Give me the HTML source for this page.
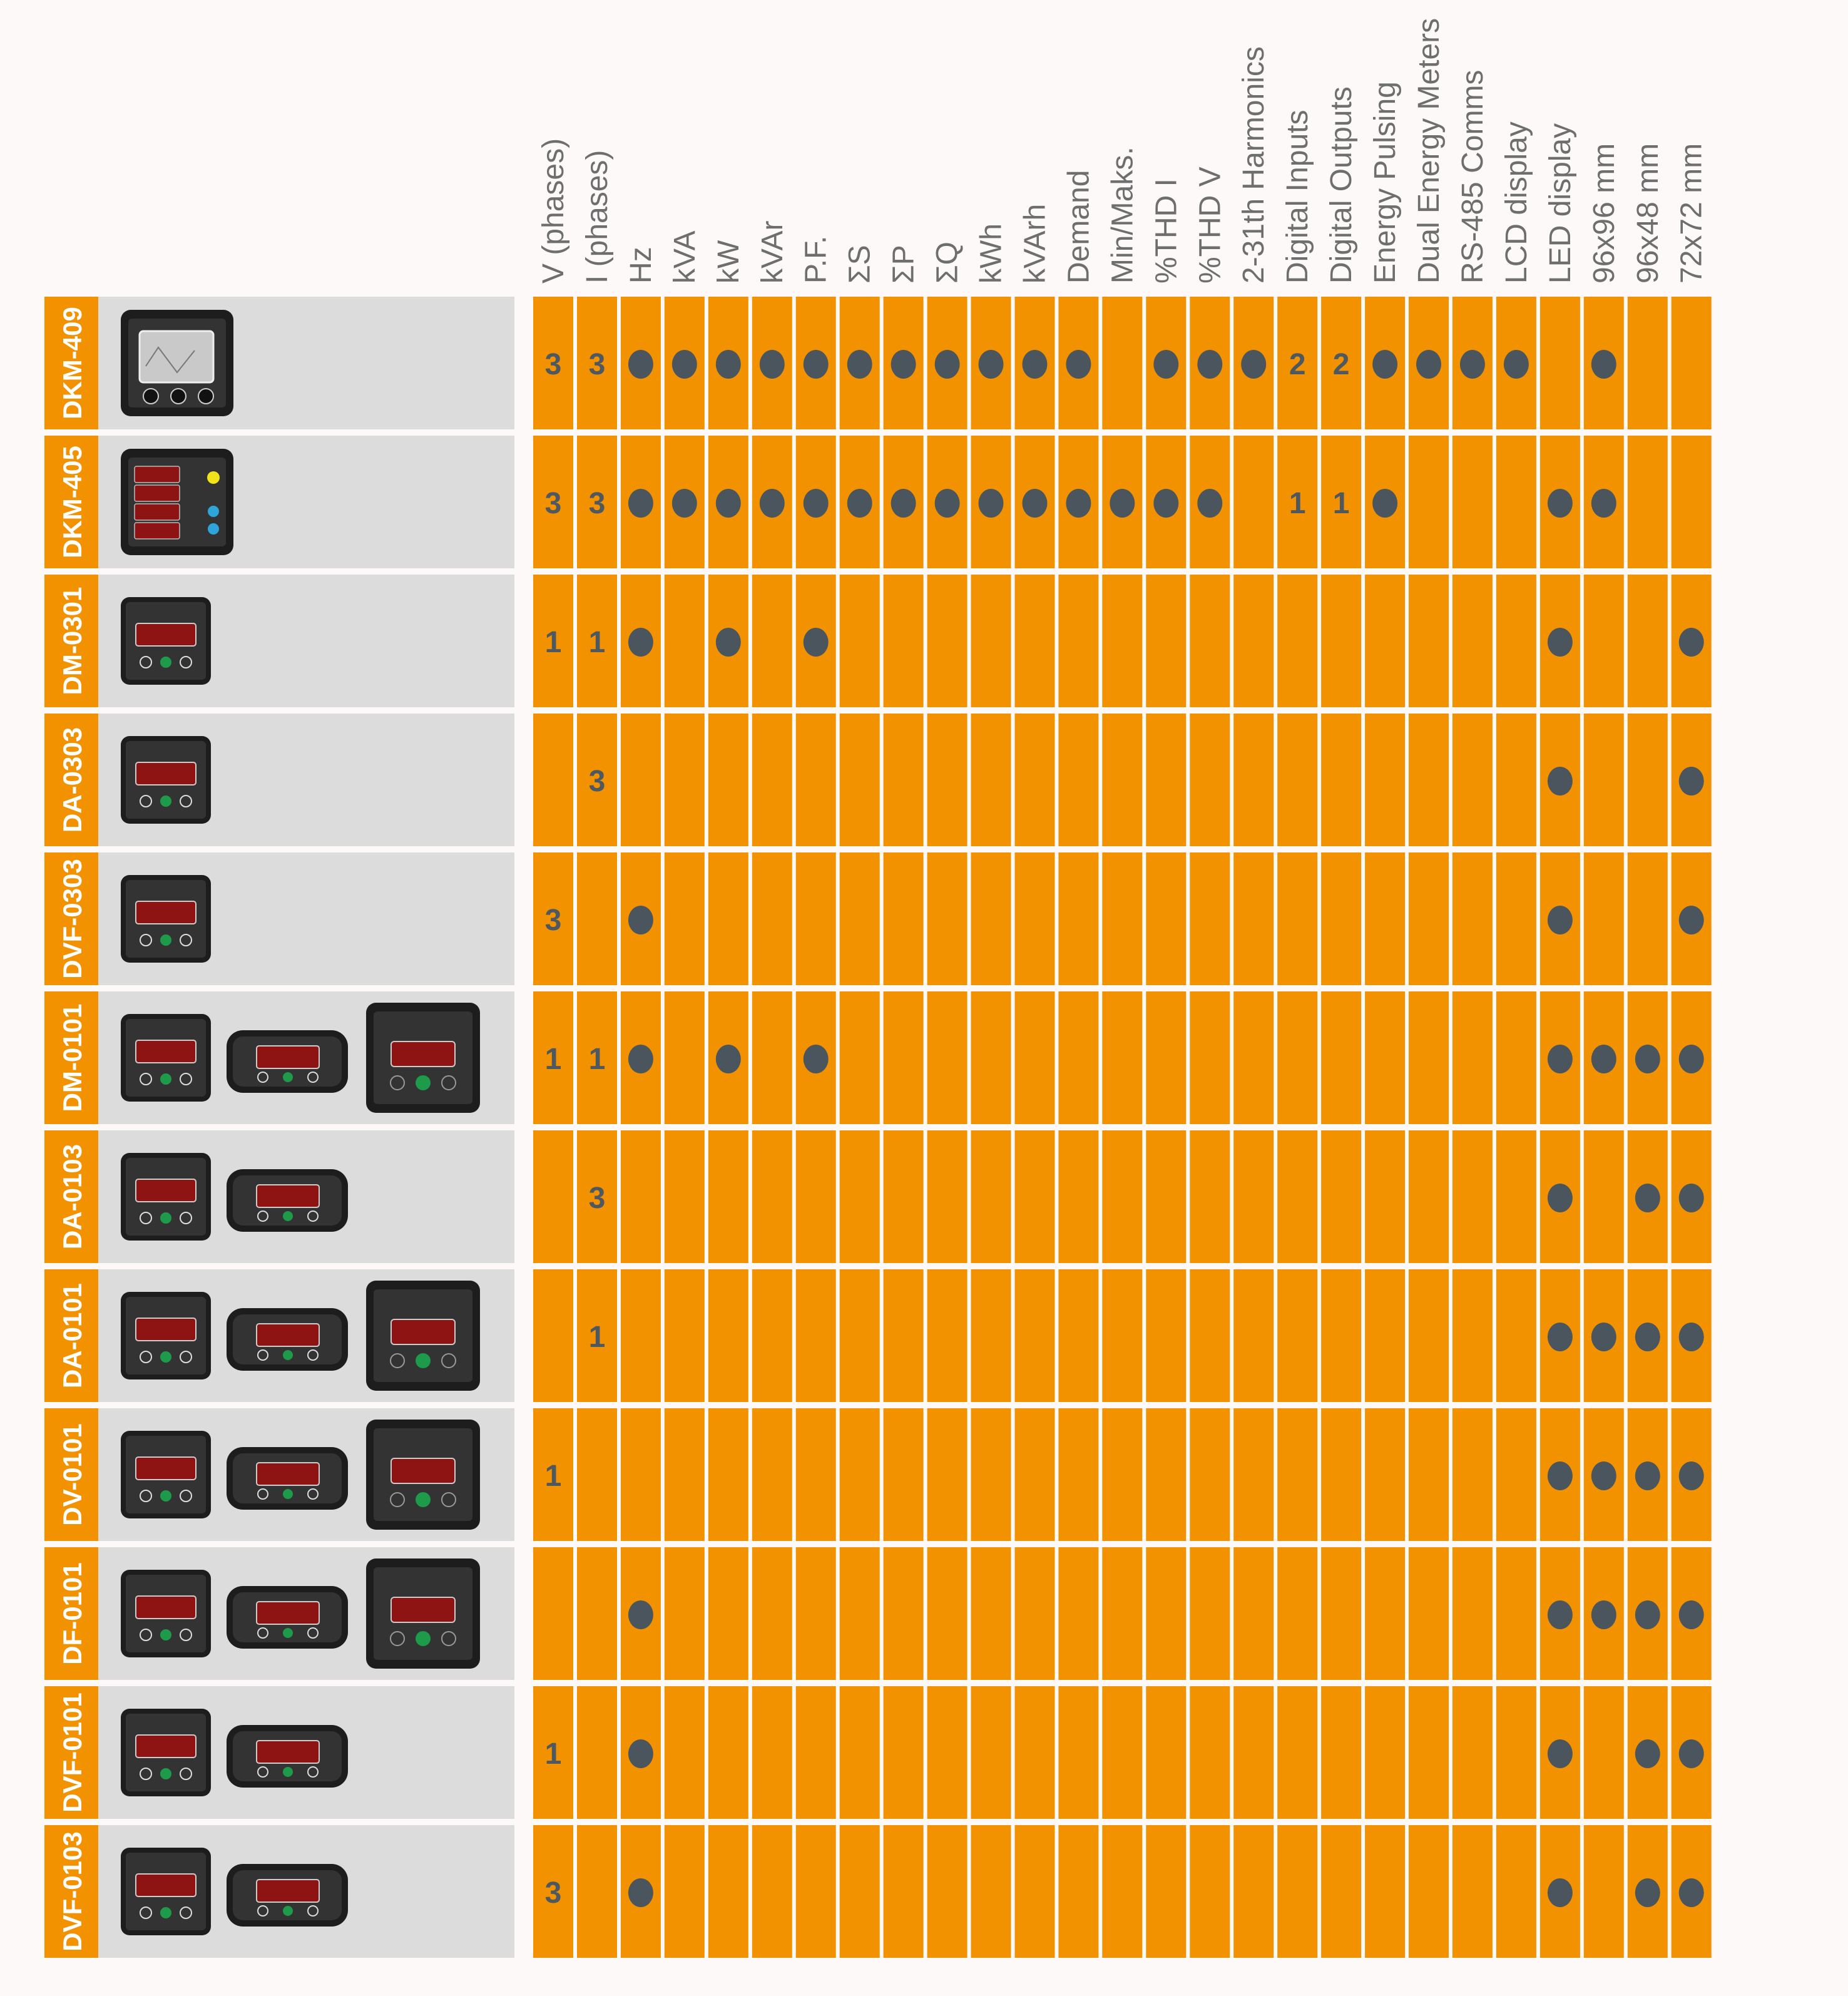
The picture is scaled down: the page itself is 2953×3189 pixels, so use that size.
<!DOCTYPE html>
<html><head><meta charset="utf-8"><style>
html,body{margin:0;padding:0;background:#fcf9f8;width:2953px;height:3189px;overflow:hidden}
svg{display:block}
</style></head><body>
<svg id="s" xmlns="http://www.w3.org/2000/svg" width="2953" height="3189" viewBox="0 0 2953 3189">
<rect width="2953" height="3189" fill="#fcf9f8"/>
</svg>
<script>
var S=document.getElementById('s'),h='';
var heads=["V (phases)","I (phases)","Hz","kVA","kW","kVAr","P.F.","\u03A3S","\u03A3P","\u03A3Q","kWh","kVArh","Demand","Min/Maks.","%THD I","%THD V","2-31th Harmonics","Digital Inputs","Digital Outputs","Energy Pulsing","Dual Energy Meters","RS-485 Comms","LCD display","LED display","96x96 mm","96x48 mm","72x72 mm"];
var D='o';
function rng(a,b){var o={};for(var i=a;i<=b;i++)o[i]=D;return o;}
function m(){var o={};for(var i=0;i<arguments.length;i++)for(var k in arguments[i])o[k]=arguments[i][k];return o;}
var rows=[
 ["DKM-409",m({0:'3',1:'3'},rng(2,12),{14:D,15:D,16:D,17:'2',18:'2',19:D,20:D,21:D,22:D,24:D}),[1]],
 ["DKM-405",m({0:'3',1:'3'},rng(2,15),{17:'1',18:'1',19:D,23:D,24:D}),[2]],
 ["DM-0301",{0:'1',1:'1',2:D,4:D,6:D,23:D,26:D},[0]],
 ["DA-0303",{1:'3',23:D,26:D},[0]],
 ["DVF-0303",{0:'3',2:D,23:D,26:D},[0]],
 ["DM-0101",{0:'1',1:'1',2:D,4:D,6:D,23:D,24:D,25:D,26:D},[0,3,4]],
 ["DA-0103",{1:'3',23:D,25:D,26:D},[0,3]],
 ["DA-0101",{1:'1',23:D,24:D,25:D,26:D},[0,3,4]],
 ["DV-0101",{0:'1',23:D,24:D,25:D,26:D},[0,3,4]],
 ["DF-0101",{2:D,23:D,24:D,25:D,26:D},[0,3,4]],
 ["DVF-0101",{0:'1',2:D,23:D,25:D,26:D},[0,3]],
 ["DVF-0103",{0:'3',2:D,23:D,25:D,26:D},[0,3]]
];
var x0=852,pw=69.95,cw=64,y0=474,rp=222,rh=212;
for(var c=0;c<27;c++){var cx=x0+c*pw+cw/2+16;
 h+='<text transform="translate('+cx+',453) rotate(-90)" font-family="Liberation Sans, sans-serif" font-size="48" fill="#6e6e6e">'+heads[c]+'</text>';}
function dev(t,x,yc){var s='';
 if(t==0){var w=144,hh=140,y=yc-hh/2;s+='<rect x="'+x+'" y="'+y+'" width="'+w+'" height="'+hh+'" rx="14" fill="#1d1d1d"/><rect x="'+(x+8)+'" y="'+(y+8)+'" width="'+(w-16)+'" height="'+(hh-16)+'" rx="6" fill="#333"/><rect x="'+(x+24)+'" y="'+(y+42)+'" width="96" height="36" rx="4" fill="#8e1414" stroke="#ccc" stroke-width="2"/><circle cx="'+(x+40)+'" cy="'+(y+104)+'" r="9" fill="none" stroke="#ddd" stroke-width="2"/><circle cx="'+(x+72)+'" cy="'+(y+104)+'" r="9" fill="#1e9b4a"/><circle cx="'+(x+104)+'" cy="'+(y+104)+'" r="9" fill="none" stroke="#ddd" stroke-width="2"/>';}
 else if(t==3){var w=194,hh=100,y=yc-hh/2+6;s+='<rect x="'+x+'" y="'+y+'" width="'+w+'" height="'+hh+'" rx="26" fill="#1d1d1d"/><rect x="'+(x+10)+'" y="'+(y+10)+'" width="'+(w-20)+'" height="'+(hh-20)+'" rx="16" fill="#333"/><rect x="'+(x+48)+'" y="'+(y+25)+'" width="100" height="36" rx="4" fill="#8e1414" stroke="#ccc" stroke-width="2"/><circle cx="'+(x+58)+'" cy="'+(y+75)+'" r="8" fill="none" stroke="#ddd" stroke-width="2"/><circle cx="'+(x+98)+'" cy="'+(y+75)+'" r="8" fill="#1e9b4a"/><circle cx="'+(x+138)+'" cy="'+(y+75)+'" r="8" fill="none" stroke="#ddd" stroke-width="2"/>';}
 else if(t==4){var w=182,hh=176,y=yc-hh/2;s+='<rect x="'+x+'" y="'+y+'" width="'+w+'" height="'+hh+'" rx="16" fill="#1d1d1d"/><rect x="'+(x+12)+'" y="'+(y+14)+'" width="'+(w-24)+'" height="'+(hh-28)+'" rx="6" fill="#333"/><rect x="'+(x+40)+'" y="'+(y+62)+'" width="102" height="40" rx="5" fill="#8e1414" stroke="#ccc" stroke-width="2"/><circle cx="'+(x+50)+'" cy="'+(y+128)+'" r="11" fill="none" stroke="#999" stroke-width="2"/><circle cx="'+(x+91)+'" cy="'+(y+128)+'" r="12" fill="#1e9b4a"/><circle cx="'+(x+132)+'" cy="'+(y+128)+'" r="11" fill="none" stroke="#999" stroke-width="2"/>';}
 else {var w=180,hh=170,y=yc-hh/2;s+='<rect x="'+x+'" y="'+y+'" width="'+w+'" height="'+hh+'" rx="16" fill="#1d1d1d"/><rect x="'+(x+12)+'" y="'+(y+14)+'" width="'+(w-24)+'" height="'+(hh-28)+'" rx="6" fill="#333"/>';
  if(t==1){s+='<rect x="'+(x+30)+'" y="'+(y+34)+'" width="118" height="82" rx="6" fill="#c9c9c9" stroke="#eee" stroke-width="3"/><polyline points="'+(x+40)+','+(y+90)+' '+(x+60)+','+(y+60)+' '+(x+90)+','+(y+100)+' '+(x+118)+','+(y+65)+'" fill="none" stroke="#777" stroke-width="2"/>';for(var i=0;i<3;i++)s+='<circle cx="'+(x+48+i*44)+'" cy="'+(y+138)+'" r="12" fill="#111" stroke="#ccc" stroke-width="2"/>';}
  else{for(var i=0;i<4;i++)s+='<rect x="'+(x+22)+'" y="'+(y+28+i*30)+'" width="72" height="26" rx="3" fill="#8e1414" stroke="#bbb" stroke-width="1.5"/>';s+='<circle cx="'+(x+148)+'" cy="'+(y+46)+'" r="10" fill="#f2e21a"/><circle cx="'+(x+148)+'" cy="'+(y+100)+'" r="9" fill="#2ea4d8"/><circle cx="'+(x+148)+'" cy="'+(y+128)+'" r="9" fill="#2ea4d8"/>';}
 }
 return s;}
for(var r=0;r<12;r++){var y=y0+r*rp,yc=y+rh/2,R=rows[r];
 h+='<rect x="71" y="'+y+'" width="86" height="'+rh+'" fill="#f39200"/><rect x="157" y="'+y+'" width="665" height="'+rh+'" fill="#dcdcdc"/>';
 h+='<text transform="translate(130,'+yc+') rotate(-90)" text-anchor="middle" font-family="Liberation Sans, sans-serif" font-weight="bold" font-size="42" fill="#fff">'+R[0]+'</text>';
 var xs=[193,362,585];
 for(var k=0;k<R[2].length;k++)h+=dev(R[2][k],xs[k],yc);
 for(var c=0;c<27;c++){var x=x0+c*pw,v=R[1][c];
  h+='<rect x="'+x.toFixed(1)+'" y="'+y+'" width="'+cw+'" height="'+rh+'" fill="#f39200"/>';
  var cx=x+cw/2;
  if(v==D)h+='<ellipse cx="'+cx.toFixed(1)+'" cy="'+(yc+2)+'" rx="20" ry="23" fill="#4a555d"/>';
  else if(v)h+='<text x="'+cx.toFixed(1)+'" y="'+(yc+18)+'" text-anchor="middle" font-family="Liberation Sans, sans-serif" font-weight="bold" font-size="48" fill="#4d5860">'+v+'</text>';
 }
}
S.insertAdjacentHTML('beforeend',h);
</script>
</body></html>
